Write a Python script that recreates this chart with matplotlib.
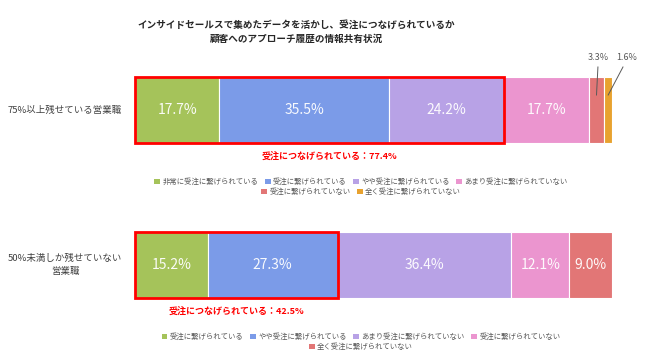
import matplotlib.pyplot as plt
from matplotlib.patches import Patch, Rectangle

plt.rcParams['font.family'] = ['Noto Sans CJK JP', 'DejaVu Sans']

title = 'インサイドセールスで集めたデータを活かし、受注につなげられているか\n顧客へのアプローチ履歴の情報共有状況'
groups = ['75%以上残せている営業職', '50%未満しか残せていない\n営業職']

values_top = [17.7, 35.5, 24.2, 17.7, 3.3, 1.6]
values_bottom = [15.2, 27.3, 36.4, 12.1, 9.0]

legend_top = ['非常に受注に繋げられている', '受注に繋げられている', 'やや受注に繋げられている',
              'あまり受注に繋げられていない', '受注に繋げられていない', '全く受注に繋げられていない']
legend_bottom = ['受注に繋げられている', 'やや受注に繋げられている', 'あまり受注に繋げられていない',
                 '受注に繋げられていない', '全く受注に繋げられていない']

colors = ['#a5c35a', '#7b9be8', '#b8a2e6', '#eb95cf', '#e27676', '#e8a22f']
n_ordered = [3, 2]  # segments counted as "受注につなげられている"

W, H = 650, 359
fig = plt.figure(figsize=(W / 100, H / 100), dpi=100)
# x: percent (0-100 spans the bar), y: pixel rows from the top
ax = fig.add_axes([135 / W, 0, 477 / W, 1])
ax.set_xlim(0, 100)
ax.set_ylim(H, 0)
ax.axis('off')

fig.text(296 / W, 1 - 32 / H, title, ha='center', va='center', fontsize=6.9,
         fontweight='bold', color='#262626', linespacing=1.55)

bar_y = [110, 265]
bar_h = 66
series = [values_top, values_bottom]
legends = [legend_top, legend_bottom]
legend_y = [(182, 192), (337, 347)]
note_shift = [2.0, 0.0]

for gi, vals in enumerate(series):
    y = bar_y[gi]
    left = 0
    for i, v in enumerate(vals):
        ax.barh(y, v, left=left, height=bar_h, color=colors[i], edgecolor='white', linewidth=0.8)
        cx = left + v / 2
        if v >= 5:
            ax.text(cx, y, f'{v:.1f}%', ha='center', va='center', color='white',
                    fontsize=10, alpha=0.95)
        left += v

    fig.text(65 / W, 1 - y / H, groups[gi], ha='center', va='center', fontsize=6.8,
             color='#404040', multialignment='center', linespacing=1.5)

    # red box around the "ordered" segments
    k = n_ordered[gi]
    total = sum(vals[:k])
    ax.add_patch(Rectangle((0, y - bar_h / 2), total, bar_h, fill=False,
                           edgecolor='#ff0000', linewidth=2.0, zorder=5, clip_on=False))
    ax.text(total / 2 + note_shift[gi], y + bar_h / 2 + 14, f'受注につなげられている：{total:.1f}%',
            ha='center', va='center', fontsize=6.5, fontweight='bold', color='#ff0000')

    # legend rows: first four, then the rest, each centered
    labs = legends[gi]
    handles = [Patch(facecolor=colors[i], edgecolor='none', label=l) for i, l in enumerate(labs)]
    for row, (a, b) in enumerate([(0, 4), (4, len(labs))]):
        fig.legend(handles=handles[a:b], loc='center', ncol=b - a,
                   bbox_to_anchor=(361 / W, 1 - legend_y[gi][row] / H),
                   frameon=False, fontsize=5.3, handlelength=0.8, handleheight=0.8,
                   handletextpad=0.3, columnspacing=0.9, borderpad=0,
                   labelcolor='#595959')

# small segments of the top bar labelled above with leader lines
y0 = bar_y[0] - bar_h / 2
left = sum(values_top[:4])
offsets = [0.3, 3.9]
for j, v in enumerate(values_top[4:]):
    cx = left + v / 2
    tx = cx + offsets[j]
    ax.plot([cx, tx - (0.8 if j else 0)], [y0 + 18, y0 - 10], color='#595959', lw=0.7,
            clip_on=False)
    ax.text(tx, y0 - 19, f'{v:.1f}%', ha='center', va='center', fontsize=6.5, color='#595959')
    left += v

fig.savefig('out.png', dpi=100)
